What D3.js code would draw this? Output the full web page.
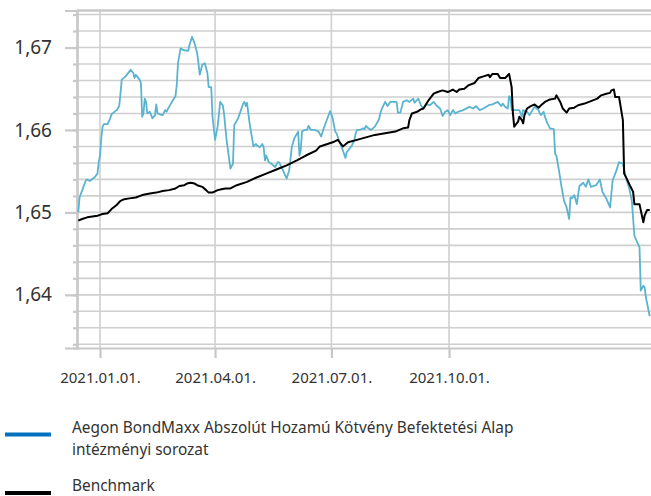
<!DOCTYPE html>
<html>
<head>
<meta charset="utf-8">
<script src="https://cdn.jsdelivr.net/npm/d3@7"></script>
<style>
  body { margin: 0; background: #fff; }
  text { font-family: "Noto Sans", "Open Sans", sans-serif; fill: #333; }
</style>
</head>
<body>
<div id="chart"></div>
<script>
// fund (blue) series
var fundDates = ["2020-12-15","2020-12-16","2020-12-19","2020-12-21","2020-12-22","2020-12-24","2020-12-28","2020-12-30","2020-12-31",
  "2021-01-01","2021-01-02","2021-01-03","2021-01-04","2021-01-07","2021-01-09","2021-01-10","2021-01-14","2021-01-16","2021-01-17",
  "2021-01-18","2021-01-21","2021-01-24","2021-01-25","2021-01-27","2021-01-28","2021-01-29","2021-01-30","2021-02-01","2021-02-02",
  "2021-02-03","2021-02-04","2021-02-05","2021-02-06","2021-02-07","2021-02-09","2021-02-11","2021-02-13","2021-02-14","2021-02-15",
  "2021-02-17","2021-02-19","2021-02-21","2021-02-22","2021-02-24","2021-02-27","2021-03-01","2021-03-02","2021-03-03","2021-03-05",
  "2021-03-07","2021-03-11","2021-03-12","2021-03-14","2021-03-16","2021-03-18","2021-03-19","2021-03-20","2021-03-22","2021-03-24",
  "2021-03-26","2021-03-27","2021-03-29","2021-03-30","2021-04-01","2021-04-03","2021-04-05","2021-04-07","2021-04-08","2021-04-10",
  "2021-04-13","2021-04-15","2021-04-16","2021-04-19","2021-04-23","2021-04-24","2021-04-25","2021-04-26","2021-04-28","2021-05-01",
  "2021-05-03","2021-05-04","2021-05-06","2021-05-08","2021-05-09","2021-05-10","2021-05-11","2021-05-13","2021-05-15","2021-05-18",
  "2021-05-20","2021-05-21","2021-05-23","2021-05-25","2021-05-27","2021-05-29","2021-05-31","2021-06-02","2021-06-05","2021-06-06",
  "2021-06-07","2021-06-08","2021-06-10","2021-06-12","2021-06-13","2021-06-15","2021-06-18","2021-06-21","2021-06-23","2021-06-25",
  "2021-06-30","2021-07-02","2021-07-04","2021-07-05","2021-07-08","2021-07-10","2021-07-12","2021-07-13","2021-07-17","2021-07-19",
  "2021-07-20","2021-07-21","2021-07-23","2021-07-26","2021-07-27","2021-07-28","2021-07-30","2021-08-01","2021-08-04","2021-08-07",
  "2021-08-09","2021-08-12","2021-08-14","2021-08-16","2021-08-21","2021-08-22","2021-08-24","2021-08-26","2021-08-29","2021-08-31",
  "2021-09-03","2021-09-04","2021-09-07","2021-09-09","2021-09-11","2021-09-13","2021-09-16","2021-09-19","2021-09-21","2021-09-24",
  "2021-09-26","2021-09-28","2021-09-30","2021-10-02","2021-10-04","2021-10-06","2021-10-08","2021-10-12","2021-10-17","2021-10-20",
  "2021-10-22","2021-10-25","2021-10-28","2021-11-01","2021-11-04","2021-11-08","2021-11-11","2021-11-12","2021-11-14","2021-11-16",
  "2021-11-17","2021-11-18","2021-11-19","2021-11-25","2021-11-27","2021-11-28","2021-12-01","2021-12-03","2021-12-06","2021-12-07",
  "2021-12-10","2021-12-11","2021-12-12","2021-12-14","2021-12-15","2021-12-17","2021-12-19","2021-12-22","2021-12-23","2021-12-24",
  "2021-12-26","2021-12-28","2021-12-30","2022-01-01","2022-01-03","2022-01-04","2022-01-05","2022-01-07","2022-01-09","2022-01-11",
  "2022-01-14","2022-01-16","2022-01-18","2022-01-20","2022-01-24","2022-01-27","2022-01-29","2022-02-01","2022-02-04","2022-02-06",
  "2022-02-09","2022-02-11","2022-02-14","2022-02-15","2022-02-17","2022-02-19","2022-02-21","2022-02-23","2022-02-24","2022-02-27",
  "2022-02-28","2022-03-02","2022-03-03","2022-03-04","2022-03-07"];
var fundValues = [1.6500,1.6518,1.6531,1.6539,1.6540,1.6538,1.6543,1.6547,1.6561,
  1.6569,1.6590,1.6604,1.6607,1.6607,1.6614,1.6619,1.6624,1.6629,1.6644,
  1.6661,1.6665,1.6671,1.6673,1.6669,1.6663,1.6667,1.6665,1.6661,1.6657,
  1.6616,1.6620,1.6638,1.6634,1.6620,1.6622,1.6614,1.6618,1.6631,1.6620,
  1.6619,1.6618,1.6624,1.6622,1.6628,1.6636,1.6641,1.6654,1.6681,1.6699,
  1.6697,1.6696,1.6703,1.6713,1.6705,1.6693,1.6681,1.6667,1.6679,1.6681,
  1.6669,1.6652,1.6652,1.6616,1.6588,1.6604,1.6634,1.6630,1.6620,1.6588,
  1.6553,1.6559,1.6606,1.6614,1.6632,1.6634,1.6629,1.6633,1.6608,1.6580,
  1.6583,1.6581,1.6579,1.6583,1.6579,1.6563,1.6569,1.6561,1.6559,1.6555,
  1.6561,1.6561,1.6555,1.6548,1.6541,1.6551,1.6579,1.6590,1.6598,1.6569,
  1.6575,1.6598,1.6600,1.6600,1.6605,1.6600,1.6600,1.6598,1.6592,1.6602,
  1.6623,1.6614,1.6598,1.6596,1.6583,1.6575,1.6566,1.6573,1.6581,1.6588,
  1.6596,1.6600,1.6600,1.6602,1.6601,1.6605,1.6602,1.6600,1.6604,1.6612,
  1.6624,1.6634,1.6629,1.6634,1.6634,1.6621,1.6621,1.6634,1.6636,1.6634,
  1.6638,1.6633,1.6638,1.6630,1.6626,1.6631,1.6630,1.6634,1.6630,1.6626,
  1.6617,1.6622,1.6624,1.6618,1.6624,1.6620,1.6622,1.6624,1.6628,1.6626,
  1.6629,1.6624,1.6626,1.6630,1.6631,1.6634,1.6629,1.6632,1.6628,1.6626,
  1.6641,1.6640,1.6624,1.6624,1.6616,1.6624,1.6622,1.6618,1.6626,1.6628,
  1.6624,1.6620,1.6618,1.6622,1.6616,1.6608,1.6602,1.6601,1.6571,1.6569,
  1.6551,1.6531,1.6514,1.6506,1.6492,1.6518,1.6517,1.6521,1.6510,1.6532,
  1.6536,1.6531,1.6540,1.6531,1.6533,1.6540,1.6525,1.6517,1.6506,1.6539,
  1.6551,1.6561,1.6559,1.6551,1.6539,1.6529,1.6514,1.6472,1.6468,1.6458,
  1.6405,1.6411,1.6409,1.6397,1.6374];

// benchmark (black) series
var benchDates = ["2020-12-15","2020-12-18","2020-12-22","2020-12-26","2020-12-30","2021-01-01","2021-01-03","2021-01-07","2021-01-10",
  "2021-01-14","2021-01-17","2021-01-20","2021-01-24","2021-01-29","2021-02-03","2021-02-09","2021-02-14","2021-02-19","2021-02-24",
  "2021-03-01","2021-03-04","2021-03-08","2021-03-10","2021-03-13","2021-03-16","2021-03-18","2021-03-22","2021-03-25","2021-03-27",
  "2021-03-30","2021-04-03","2021-04-06","2021-04-09","2021-04-13","2021-04-18","2021-04-26","2021-05-03","2021-05-11","2021-05-19",
  "2021-05-27","2021-06-04","2021-06-11","2021-06-19","2021-06-22","2021-07-02","2021-07-06","2021-07-10","2021-07-14","2021-07-21",
  "2021-07-28","2021-08-04","2021-08-12","2021-08-20","2021-08-26","2021-08-30","2021-08-31","2021-09-02","2021-09-06","2021-09-09",
  "2021-09-11","2021-09-15","2021-09-19","2021-09-22","2021-09-26","2021-09-30","2021-10-04","2021-10-07","2021-10-09","2021-10-13",
  "2021-10-16","2021-10-21","2021-10-24","2021-10-28","2021-11-01","2021-11-02","2021-11-04","2021-11-08","2021-11-10","2021-11-14",
  "2021-11-17","2021-11-19","2021-11-20","2021-11-21","2021-11-24","2021-11-25","2021-11-27","2021-11-28","2021-11-29","2021-12-01",
  "2021-12-04","2021-12-07","2021-12-10","2021-12-12","2021-12-15","2021-12-19","2021-12-23","2021-12-24","2021-12-27","2021-12-29",
  "2022-01-01","2022-01-03","2022-01-07","2022-01-10","2022-01-15","2022-01-20","2022-01-25","2022-01-28","2022-02-01","2022-02-04",
  "2022-02-05","2022-02-07","2022-02-08","2022-02-11","2022-02-14","2022-02-15","2022-02-17","2022-02-20","2022-02-22","2022-02-23",
  "2022-02-27","2022-03-02","2022-03-03","2022-03-05","2022-03-07"];
var benchValues = [1.6490,1.6492,1.6494,1.6495,1.6496,1.6497,1.6498,1.6499,1.6504,
  1.6509,1.6514,1.6516,1.6517,1.6518,1.6521,1.6523,1.6524,1.6526,1.6527,
  1.6529,1.6532,1.6533,1.6535,1.6536,1.6535,1.6533,1.6531,1.6527,1.6524,
  1.6524,1.6527,1.6528,1.6529,1.6529,1.6533,1.6537,1.6542,1.6547,1.6552,
  1.6557,1.6563,1.6569,1.6575,1.6580,1.6585,1.6588,1.6580,1.6585,1.6588,
  1.6591,1.6594,1.6596,1.6598,1.6602,1.6603,1.6612,1.6620,1.6622,1.6625,
  1.6626,1.6636,1.6644,1.6646,1.6648,1.6646,1.6649,1.6646,1.6649,1.6650,
  1.6654,1.6657,1.6663,1.6665,1.6667,1.6664,1.6668,1.6668,1.6663,1.6663,
  1.6668,1.6652,1.6620,1.6604,1.6610,1.6616,1.6612,1.6608,1.6618,1.6626,
  1.6629,1.6631,1.6627,1.6630,1.6634,1.6637,1.6638,1.6642,1.6634,1.6626,
  1.6621,1.6626,1.6627,1.6630,1.6632,1.6635,1.6638,1.6642,1.6644,1.6645,
  1.6648,1.6649,1.6640,1.6640,1.6612,1.6547,1.6541,1.6531,1.6525,1.6510,
  1.6510,1.6488,1.6496,1.6503,1.6503];

var tickDates = ["2021-01-01", "2021-04-01", "2021-07-01", "2021-10-01"];
var majorTicks = [1.64, 1.65, 1.66, 1.67];
var legendLabels = [
  ["Aegon BondMaxx Abszolút Hozamú Kötvény Befektetési Alap", "intézményi sorozat"],
  ["Benchmark"]
];
var legendColors = ["#0070bf", "#000000"];

var svgWidth = 651;
var svgHeight = 496;

var margin = { top: 10.5, right: 0, bottom: 148, left: 77 };
var width = svgWidth - margin.left - margin.right;
var height = svgHeight - margin.top - margin.bottom;

var parseDate = d3.timeParse("%Y-%m-%d");
var huFormat = d3.formatLocale({ decimal: ",", thousands: " ", grouping: [3], currency: ["", ""] }).format(".2f");

var fundData = fundDates.map(function(d, i) { return { date: parseDate(d), value: fundValues[i] }; });
var benchData = benchDates.map(function(d, i) { return { date: parseDate(d), value: benchValues[i] }; });

var svg = d3.select("#chart")
  .append("svg")
  .attr("width", svgWidth)
  .attr("height", svgHeight);

var chartGroup = svg.append("g")
  .attr("transform", `translate(${margin.left}, ${margin.top})`);

var xTimeScale = d3.scaleTime()
  .domain([parseDate("2020-12-14"), parseDate("2022-03-08")])
  .range([0, width]);

var yLinearScale = d3.scaleLinear()
  .domain([1.63355, 1.67449])
  .range([height, 0]);

// minor horizontal gridlines every 0.002
var gridValues = d3.range(1634, 1675, 2).map(function(v) { return v / 1000; });
chartGroup.append("g")
  .selectAll("line")
  .data(gridValues)
  .enter()
  .append("line")
  .attr("x1", 0)
  .attr("x2", width)
  .attr("y1", d => yLinearScale(d))
  .attr("y2", d => yLinearScale(d))
  .attr("stroke", "#cfcfcf")
  .attr("stroke-width", 1.6);

// vertical gridlines
chartGroup.append("g")
  .selectAll("line")
  .data(tickDates)
  .enter()
  .append("line")
  .attr("x1", d => xTimeScale(parseDate(d)))
  .attr("x2", d => xTimeScale(parseDate(d)))
  .attr("y1", 0)
  .attr("y2", height)
  .attr("stroke", "#cfcfcf")
  .attr("stroke-width", 1.6);

// top border
chartGroup.append("line")
  .attr("x1", 0).attr("x2", width)
  .attr("y1", 0).attr("y2", 0)
  .attr("stroke", "#c8c8c8")
  .attr("stroke-width", 2.5);

// axes
var minorAxis = d3.axisLeft(yLinearScale)
  .tickValues(gridValues)
  .tickSize(4)
  .tickFormat("");
var leftAxis = d3.axisLeft(yLinearScale)
  .tickValues(majorTicks)
  .tickSize(12)
  .tickPadding(13)
  .tickFormat(huFormat);
var bottomAxis = d3.axisBottom(xTimeScale)
  .tickValues(tickDates.map(parseDate))
  .tickSize(10)
  .tickSizeOuter(0)
  .tickPadding(14)
  .tickFormat(d3.timeFormat("%Y.%m.%d."));

chartGroup.append("g").attr("class", "axis").call(minorAxis);
chartGroup.append("g").attr("class", "axis y").call(leftAxis);
chartGroup.append("g")
  .attr("class", "axis x")
  .attr("transform", `translate(0, ${height})`)
  .call(bottomAxis);

chartGroup.selectAll(".axis path, .axis line")
  .attr("stroke", "#c8c8c8")
  .attr("stroke-width", 2.2);
chartGroup.selectAll(".axis.y text")
  .attr("font-size", 19)
  .attr("fill", "#333");
chartGroup.selectAll(".axis.x text")
  .attr("font-size", 15)
  .attr("fill", "#333");

// lines
var line = d3.line()
  .x(d => xTimeScale(d.date))
  .y(d => yLinearScale(d.value));

chartGroup.append("path")
  .datum(fundData)
  .attr("fill", "none")
  .attr("stroke", "#5bb4cf")
  .attr("stroke-width", 1.8)
  .attr("stroke-linejoin", "round")
  .attr("d", line);

chartGroup.append("path")
  .datum(benchData)
  .attr("fill", "none")
  .attr("stroke", "#000")
  .attr("stroke-width", 2)
  .attr("stroke-linejoin", "round")
  .attr("d", line);

// legend
var legend = svg.append("g");
var legendRows = legend.selectAll("g")
  .data(legendLabels)
  .enter()
  .append("g")
  .attr("transform", (d, i) => `translate(0, ${i === 0 ? 433 : 491})`);

legendRows.append("line")
  .attr("x1", 5).attr("x2", 51)
  .attr("y1", (d, i) => i === 0 ? 1.5 : 2)
  .attr("y2", (d, i) => i === 0 ? 1.5 : 2)
  .attr("stroke", (d, i) => legendColors[i])
  .attr("stroke-width", 4);

legendRows.append("text")
  .attr("x", 72)
  .attr("y", 0)
  .attr("font-size", 15.4)
  .selectAll("tspan")
  .data(d => d)
  .enter()
  .append("tspan")
  .attr("x", 72)
  .attr("dy", (d, i) => i === 0 ? 0 : 21.5)
  .text(d => d);
</script>
</body>
</html>
